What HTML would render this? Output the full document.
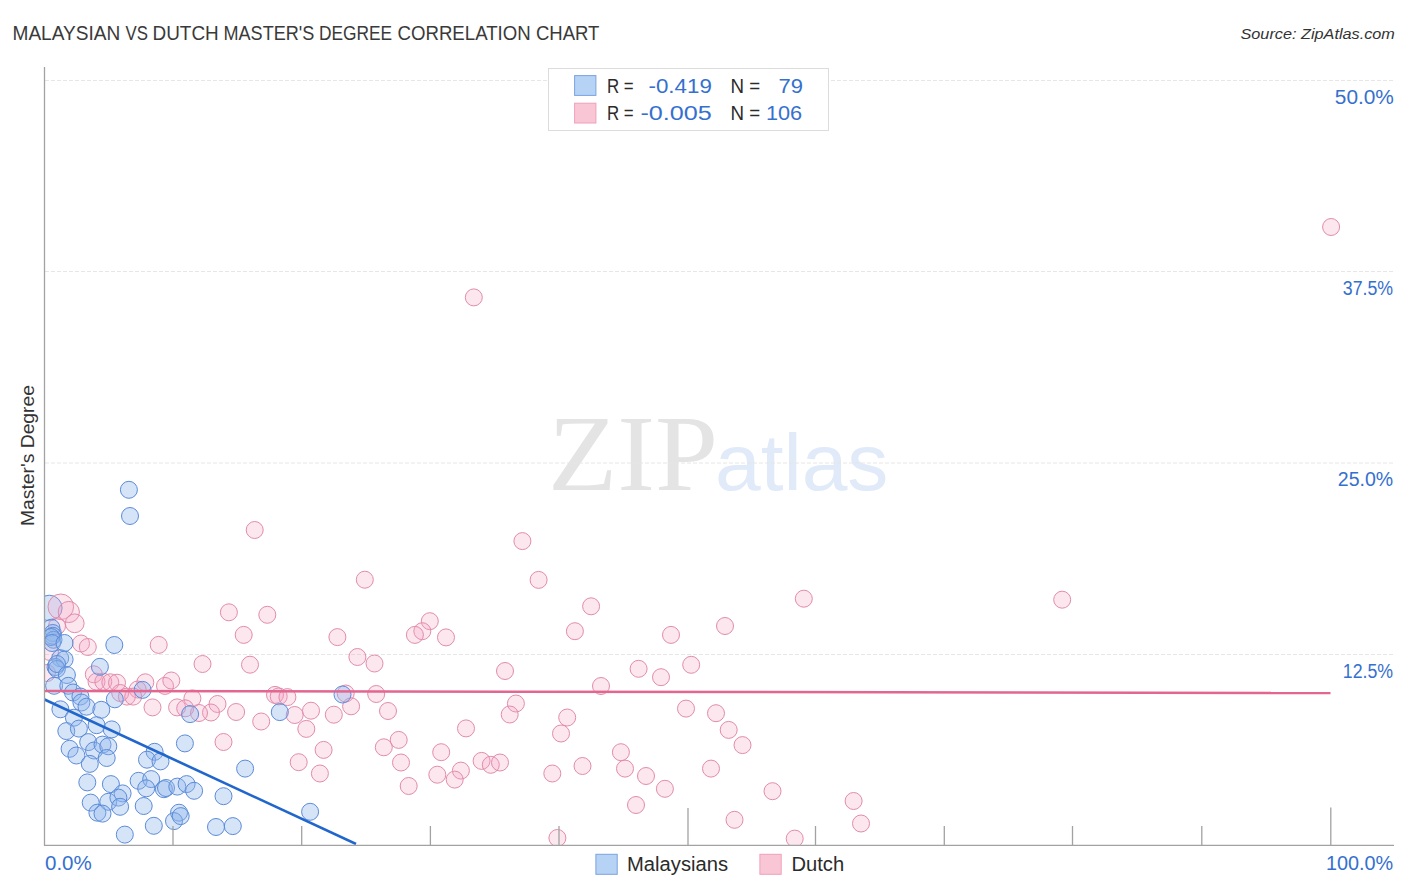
<!DOCTYPE html>
<html><head><meta charset="utf-8">
<style>
html,body{margin:0;padding:0;background:#fff;}
body{width:1406px;height:892px;overflow:hidden;position:relative;}
svg{position:absolute;left:0;top:0;}
text{font-family:"Liberation Sans",sans-serif;}
.p{fill:rgba(245,160,190,0.25);stroke:#e28cab;stroke-width:1;}
.b{fill:rgba(140,180,235,0.36);stroke:#5b8bd9;stroke-width:1;}
</style></head><body>
<svg width="1406" height="892" viewBox="0 0 1406 892">
<defs><clipPath id="plot"><rect x="44.5" y="60" width="1360" height="785"/></clipPath></defs>
<text id="zip" x="548.0" y="490" font-size="108" fill="#e4e4e4" textLength="170.0" lengthAdjust="spacingAndGlyphs" style="font-family:'Liberation Serif',serif">ZIP</text>
<text id="atlas" x="715.0" y="490" font-size="80" fill="#e0eaf8" textLength="173.38" lengthAdjust="spacingAndGlyphs" >atlas</text>
<g stroke="#e6e6e6" stroke-width="1" stroke-dasharray="4,2">
<line x1="45" y1="80.5" x2="1394" y2="80.5"/>
<line x1="45" y1="271.5" x2="1394" y2="271.5"/>
<line x1="45" y1="463" x2="1394" y2="463"/>
<line x1="45" y1="654.5" x2="1394" y2="654.5"/>
</g>

<g clip-path="url(#plot)">
<circle cx="49.3" cy="608.0" r="12.8" class="b"/>
<circle cx="1331.1" cy="227.0" r="8.5" class="p"/>
<circle cx="473.8" cy="297.4" r="8.5" class="p"/>
<circle cx="254.7" cy="530.0" r="8.5" class="p"/>
<circle cx="522.4" cy="541.1" r="8.5" class="p"/>
<circle cx="364.8" cy="579.7" r="8.5" class="p"/>
<circle cx="538.6" cy="579.9" r="8.5" class="p"/>
<circle cx="803.8" cy="598.7" r="8.5" class="p"/>
<circle cx="1062.2" cy="599.7" r="8.5" class="p"/>
<circle cx="591.1" cy="606.3" r="8.5" class="p"/>
<circle cx="574.9" cy="631.2" r="8.5" class="p"/>
<circle cx="429.8" cy="621.2" r="8.5" class="p"/>
<circle cx="422.3" cy="631.2" r="8.5" class="p"/>
<circle cx="414.9" cy="634.9" r="8.5" class="p"/>
<circle cx="446.0" cy="637.4" r="8.5" class="p"/>
<circle cx="671.0" cy="634.9" r="8.5" class="p"/>
<circle cx="725.0" cy="626.0" r="8.5" class="p"/>
<circle cx="505.0" cy="671.0" r="8.5" class="p"/>
<circle cx="638.6" cy="668.8" r="8.5" class="p"/>
<circle cx="661.0" cy="677.2" r="8.5" class="p"/>
<circle cx="691.2" cy="664.8" r="8.5" class="p"/>
<circle cx="601.0" cy="686.0" r="8.5" class="p"/>
<circle cx="515.9" cy="703.5" r="8.5" class="p"/>
<circle cx="509.7" cy="714.5" r="8.5" class="p"/>
<circle cx="567.2" cy="717.5" r="8.5" class="p"/>
<circle cx="686.0" cy="708.6" r="8.5" class="p"/>
<circle cx="716.0" cy="713.2" r="8.5" class="p"/>
<circle cx="388.0" cy="711.0" r="8.5" class="p"/>
<circle cx="376.2" cy="694.0" r="8.5" class="p"/>
<circle cx="374.5" cy="663.5" r="8.5" class="p"/>
<circle cx="357.4" cy="657.0" r="8.5" class="p"/>
<circle cx="337.4" cy="637.1" r="8.5" class="p"/>
<circle cx="228.9" cy="612.3" r="8.5" class="p"/>
<circle cx="267.3" cy="614.8" r="8.5" class="p"/>
<circle cx="243.7" cy="634.9" r="8.5" class="p"/>
<circle cx="250.0" cy="664.7" r="8.5" class="p"/>
<circle cx="202.5" cy="664.0" r="8.5" class="p"/>
<circle cx="728.7" cy="729.9" r="8.5" class="p"/>
<circle cx="742.5" cy="745.1" r="8.5" class="p"/>
<circle cx="772.5" cy="791.2" r="8.5" class="p"/>
<circle cx="853.6" cy="801.0" r="8.5" class="p"/>
<circle cx="734.5" cy="819.8" r="8.5" class="p"/>
<circle cx="861.0" cy="823.5" r="8.5" class="p"/>
<circle cx="794.7" cy="838.6" r="8.5" class="p"/>
<circle cx="466.0" cy="728.4" r="8.5" class="p"/>
<circle cx="398.7" cy="739.9" r="8.5" class="p"/>
<circle cx="383.8" cy="747.3" r="8.5" class="p"/>
<circle cx="441.2" cy="752.2" r="8.5" class="p"/>
<circle cx="401.0" cy="762.5" r="8.5" class="p"/>
<circle cx="481.6" cy="760.9" r="8.5" class="p"/>
<circle cx="490.8" cy="764.8" r="8.5" class="p"/>
<circle cx="500.0" cy="762.5" r="8.5" class="p"/>
<circle cx="460.9" cy="770.6" r="8.5" class="p"/>
<circle cx="437.3" cy="774.7" r="8.5" class="p"/>
<circle cx="454.7" cy="779.6" r="8.5" class="p"/>
<circle cx="408.7" cy="786.0" r="8.5" class="p"/>
<circle cx="552.3" cy="773.5" r="8.5" class="p"/>
<circle cx="582.5" cy="766.0" r="8.5" class="p"/>
<circle cx="620.9" cy="752.2" r="8.5" class="p"/>
<circle cx="625.0" cy="768.6" r="8.5" class="p"/>
<circle cx="646.0" cy="776.0" r="8.5" class="p"/>
<circle cx="664.9" cy="788.8" r="8.5" class="p"/>
<circle cx="636.0" cy="805.0" r="8.5" class="p"/>
<circle cx="711.0" cy="768.6" r="8.5" class="p"/>
<circle cx="561.0" cy="733.5" r="8.5" class="p"/>
<circle cx="557.4" cy="838.0" r="8.5" class="p"/>
<circle cx="275.0" cy="694.9" r="8.5" class="p"/>
<circle cx="278.7" cy="696.4" r="8.5" class="p"/>
<circle cx="287.4" cy="697.1" r="8.5" class="p"/>
<circle cx="345.7" cy="693.5" r="8.5" class="p"/>
<circle cx="351.1" cy="706.3" r="8.5" class="p"/>
<circle cx="217.5" cy="704.0" r="8.5" class="p"/>
<circle cx="211.0" cy="712.5" r="8.5" class="p"/>
<circle cx="236.1" cy="712.0" r="8.5" class="p"/>
<circle cx="294.7" cy="715.0" r="8.5" class="p"/>
<circle cx="311.0" cy="710.7" r="8.5" class="p"/>
<circle cx="333.8" cy="714.7" r="8.5" class="p"/>
<circle cx="261.2" cy="721.5" r="8.5" class="p"/>
<circle cx="306.3" cy="728.9" r="8.5" class="p"/>
<circle cx="223.5" cy="742.0" r="8.5" class="p"/>
<circle cx="323.6" cy="749.9" r="8.5" class="p"/>
<circle cx="298.7" cy="762.2" r="8.5" class="p"/>
<circle cx="319.9" cy="773.5" r="8.5" class="p"/>
<circle cx="50.0" cy="652.0" r="8.5" class="p"/>
<circle cx="57.0" cy="626.0" r="8.5" class="p"/>
<circle cx="47.0" cy="673.0" r="8.5" class="p"/>
<circle cx="60.8" cy="606.8" r="12.8" class="p"/>
<circle cx="68.8" cy="612.0" r="10.6" class="p"/>
<circle cx="74.7" cy="623.3" r="9.4" class="p"/>
<circle cx="81.0" cy="643.5" r="8.5" class="p"/>
<circle cx="87.8" cy="647.0" r="8.5" class="p"/>
<circle cx="158.7" cy="644.9" r="8.5" class="p"/>
<circle cx="93.8" cy="674.3" r="8.5" class="p"/>
<circle cx="96.5" cy="681.7" r="8.5" class="p"/>
<circle cx="103.3" cy="681.7" r="8.5" class="p"/>
<circle cx="110.3" cy="682.3" r="8.5" class="p"/>
<circle cx="117.0" cy="682.7" r="8.5" class="p"/>
<circle cx="145.3" cy="682.3" r="8.5" class="p"/>
<circle cx="137.7" cy="689.5" r="8.5" class="p"/>
<circle cx="120.2" cy="693.0" r="8.5" class="p"/>
<circle cx="126.9" cy="696.6" r="8.5" class="p"/>
<circle cx="133.2" cy="696.6" r="8.5" class="p"/>
<circle cx="165.0" cy="685.9" r="8.5" class="p"/>
<circle cx="171.3" cy="680.5" r="8.5" class="p"/>
<circle cx="152.5" cy="707.4" r="8.5" class="p"/>
<circle cx="192.4" cy="698.4" r="8.5" class="p"/>
<circle cx="177.1" cy="707.4" r="8.5" class="p"/>
<circle cx="185.2" cy="708.3" r="8.5" class="p"/>
<circle cx="199.0" cy="713.0" r="8.5" class="p"/>
<circle cx="128.9" cy="489.8" r="8.5" class="b"/>
<circle cx="130.0" cy="516.0" r="8.5" class="b"/>
<circle cx="342.5" cy="694.5" r="8.5" class="b"/>
<circle cx="279.8" cy="712.1" r="8.5" class="b"/>
<circle cx="245.1" cy="768.6" r="8.5" class="b"/>
<circle cx="223.5" cy="796.2" r="8.5" class="b"/>
<circle cx="310.1" cy="811.8" r="8.5" class="b"/>
<circle cx="216.0" cy="827.0" r="8.5" class="b"/>
<circle cx="232.8" cy="826.1" r="8.5" class="b"/>
<circle cx="51.4" cy="627.7" r="8.5" class="b"/>
<circle cx="52.8" cy="633.0" r="8.5" class="b"/>
<circle cx="52.8" cy="635.8" r="8.5" class="b"/>
<circle cx="53.5" cy="639.8" r="8.5" class="b"/>
<circle cx="51.0" cy="637.0" r="8.5" class="b"/>
<circle cx="52.0" cy="643.0" r="8.5" class="b"/>
<circle cx="64.5" cy="643.0" r="8.5" class="b"/>
<circle cx="114.3" cy="645.0" r="8.5" class="b"/>
<circle cx="60.2" cy="658.2" r="8.5" class="b"/>
<circle cx="64.6" cy="659.5" r="8.5" class="b"/>
<circle cx="55.5" cy="667.0" r="8.5" class="b"/>
<circle cx="56.8" cy="669.0" r="8.5" class="b"/>
<circle cx="57.0" cy="664.0" r="8.5" class="b"/>
<circle cx="66.9" cy="675.0" r="8.5" class="b"/>
<circle cx="54.1" cy="685.8" r="8.5" class="b"/>
<circle cx="68.3" cy="685.8" r="8.5" class="b"/>
<circle cx="73.0" cy="692.5" r="8.5" class="b"/>
<circle cx="80.4" cy="696.5" r="8.5" class="b"/>
<circle cx="99.9" cy="666.8" r="8.5" class="b"/>
<circle cx="142.6" cy="689.9" r="8.5" class="b"/>
<circle cx="114.8" cy="699.3" r="8.5" class="b"/>
<circle cx="190.1" cy="714.1" r="8.5" class="b"/>
<circle cx="60.4" cy="709.3" r="8.5" class="b"/>
<circle cx="81.4" cy="702.5" r="8.5" class="b"/>
<circle cx="86.5" cy="706.7" r="8.5" class="b"/>
<circle cx="101.3" cy="709.8" r="8.5" class="b"/>
<circle cx="73.9" cy="717.7" r="8.5" class="b"/>
<circle cx="66.3" cy="731.1" r="8.5" class="b"/>
<circle cx="78.9" cy="728.6" r="8.5" class="b"/>
<circle cx="96.6" cy="725.2" r="8.5" class="b"/>
<circle cx="111.7" cy="729.4" r="8.5" class="b"/>
<circle cx="88.2" cy="742.1" r="8.5" class="b"/>
<circle cx="69.6" cy="748.8" r="8.5" class="b"/>
<circle cx="76.4" cy="755.5" r="8.5" class="b"/>
<circle cx="94.0" cy="750.5" r="8.5" class="b"/>
<circle cx="102.5" cy="744.6" r="8.5" class="b"/>
<circle cx="108.3" cy="746.3" r="8.5" class="b"/>
<circle cx="106.7" cy="758.0" r="8.5" class="b"/>
<circle cx="89.8" cy="763.9" r="8.5" class="b"/>
<circle cx="184.9" cy="743.4" r="8.5" class="b"/>
<circle cx="154.6" cy="751.8" r="8.5" class="b"/>
<circle cx="147.0" cy="759.7" r="8.5" class="b"/>
<circle cx="160.5" cy="761.4" r="8.5" class="b"/>
<circle cx="87.3" cy="782.4" r="8.5" class="b"/>
<circle cx="110.9" cy="784.1" r="8.5" class="b"/>
<circle cx="138.6" cy="780.8" r="8.5" class="b"/>
<circle cx="151.2" cy="779.1" r="8.5" class="b"/>
<circle cx="146.2" cy="788.3" r="8.5" class="b"/>
<circle cx="163.9" cy="789.2" r="8.5" class="b"/>
<circle cx="166.0" cy="788.0" r="8.5" class="b"/>
<circle cx="177.3" cy="786.6" r="8.5" class="b"/>
<circle cx="186.6" cy="784.1" r="8.5" class="b"/>
<circle cx="194.1" cy="790.8" r="8.5" class="b"/>
<circle cx="122.6" cy="793.4" r="8.5" class="b"/>
<circle cx="90.7" cy="802.6" r="8.5" class="b"/>
<circle cx="108.3" cy="801.8" r="8.5" class="b"/>
<circle cx="118.4" cy="797.6" r="8.5" class="b"/>
<circle cx="120.1" cy="806.8" r="8.5" class="b"/>
<circle cx="97.4" cy="812.7" r="8.5" class="b"/>
<circle cx="102.5" cy="813.6" r="8.5" class="b"/>
<circle cx="143.7" cy="806.0" r="8.5" class="b"/>
<circle cx="179.0" cy="812.7" r="8.5" class="b"/>
<circle cx="174.0" cy="821.1" r="8.5" class="b"/>
<circle cx="180.7" cy="816.1" r="8.5" class="b"/>
<circle cx="153.8" cy="825.8" r="8.5" class="b"/>
<circle cx="124.8" cy="834.6" r="8.5" class="b"/>
<line x1="44.5" y1="691" x2="1330.5" y2="693" stroke="#e2668f" stroke-width="2.5"/>
<line x1="44.5" y1="699.5" x2="356" y2="844" stroke="#2166cc" stroke-width="2.6"/>
</g>
<g stroke="#a2a2a2" stroke-width="1.3">
<line x1="44.5" y1="67" x2="44.5" y2="845.5"/>
<line x1="44" y1="845.3" x2="1394" y2="845.3"/>
<line x1="173" y1="826" x2="173" y2="845"/>
<line x1="301.7" y1="826" x2="301.7" y2="845"/>
<line x1="430.4" y1="826" x2="430.4" y2="845"/>
<line x1="559" y1="826" x2="559" y2="845"/>
<line x1="688" y1="808" x2="688" y2="845"/>
<line x1="815.5" y1="826" x2="815.5" y2="845"/>
<line x1="944.3" y1="826" x2="944.3" y2="845"/>
<line x1="1072.5" y1="826" x2="1072.5" y2="845"/>
<line x1="1201.8" y1="826" x2="1201.8" y2="845"/>
<line x1="1330.8" y1="807.5" x2="1330.8" y2="845"/>
</g>
<text transform="translate(34.1,526) rotate(-90)" font-size="18" fill="#333" textLength="141" lengthAdjust="spacingAndGlyphs">Master's Degree</text>
<rect x="548.5" y="68.5" width="280" height="62" fill="#fff" stroke="#dcdcdc" stroke-width="1"/>
<rect x="574.6" y="75.6" width="21.3" height="19.8" fill="#b6d2f5" stroke="#7ba3de" stroke-width="1"/>
<rect x="574.6" y="103.2" width="21.3" height="19.8" fill="#f9c6d6" stroke="#efa0ba" stroke-width="1"/>
<rect x="595.9" y="854.3" width="21.3" height="20" fill="#b6d2f5" stroke="#7ba3de" stroke-width="1"/>
<rect x="759.9" y="854.3" width="21.3" height="20" fill="#f9c6d6" stroke="#efa0ba" stroke-width="1"/>
<text id="t0" x="12.5" y="39.8" font-size="19.5" fill="#3a3a3a" textLength="107.79" lengthAdjust="spacingAndGlyphs" >MALAYSIAN</text>
<text id="t1" x="125.5" y="39.8" font-size="19.5" fill="#3a3a3a" textLength="22.42" lengthAdjust="spacingAndGlyphs" >VS</text>
<text id="t2" x="152.5" y="39.8" font-size="19.5" fill="#3a3a3a" textLength="66.25" lengthAdjust="spacingAndGlyphs" >DUTCH</text>
<text id="t3" x="223.5" y="39.8" font-size="19.5" fill="#3a3a3a" textLength="90.8" lengthAdjust="spacingAndGlyphs" >MASTER'S</text>
<text id="t4" x="319.0" y="39.8" font-size="19.5" fill="#3a3a3a" textLength="73.16" lengthAdjust="spacingAndGlyphs" >DEGREE</text>
<text id="t5" x="397.5" y="39.8" font-size="19.5" fill="#3a3a3a" textLength="133.21" lengthAdjust="spacingAndGlyphs" >CORRELATION</text>
<text id="t6" x="536.0" y="39.8" font-size="19.5" fill="#3a3a3a" textLength="63.41" lengthAdjust="spacingAndGlyphs" >CHART</text>
<text id="source" x="1240.5" y="38.8" font-size="15" fill="#333" textLength="154.36" lengthAdjust="spacingAndGlyphs" font-style="italic">Source: ZipAtlas.com</text>
<text id="y50" x="1334.8" y="103.6" font-size="20" fill="#3570cf" textLength="59.12" lengthAdjust="spacingAndGlyphs" >50.0%</text>
<text id="y375" x="1342.8" y="294.8" font-size="20" fill="#3570cf" textLength="50.32" lengthAdjust="spacingAndGlyphs" >37.5%</text>
<text id="y25" x="1337.8" y="486" font-size="20" fill="#3570cf" textLength="55.32" lengthAdjust="spacingAndGlyphs" >25.0%</text>
<text id="y125" x="1342.8" y="678.1" font-size="20" fill="#3570cf" textLength="50.32" lengthAdjust="spacingAndGlyphs" >12.5%</text>
<text id="x0" x="45.0" y="869.8" font-size="20" fill="#3570cf" textLength="46.79" lengthAdjust="spacingAndGlyphs" >0.0%</text>
<text id="x100" x="1326.0" y="869.8" font-size="20" fill="#3570cf" textLength="67.24" lengthAdjust="spacingAndGlyphs" >100.0%</text>
<text id="R1" x="606.9" y="93" font-size="20" fill="#2b2b2b" textLength="26.69" lengthAdjust="spacingAndGlyphs" >R =</text>
<text id="v1" x="648.5" y="93" font-size="20" fill="#3570cf" textLength="63.32" lengthAdjust="spacingAndGlyphs" >-0.419</text>
<text id="N1" x="730.5" y="93" font-size="20" fill="#2b2b2b" textLength="29.69" lengthAdjust="spacingAndGlyphs" >N =</text>
<text id="n1" x="778.5" y="93" font-size="20" fill="#3570cf" textLength="24.45" lengthAdjust="spacingAndGlyphs" >79</text>
<text id="R2" x="606.9" y="120" font-size="20" fill="#2b2b2b" textLength="26.69" lengthAdjust="spacingAndGlyphs" >R =</text>
<text id="v2" x="640.5" y="120" font-size="20" fill="#3570cf" textLength="71.32" lengthAdjust="spacingAndGlyphs" >-0.005</text>
<text id="N2" x="730.5" y="120" font-size="20" fill="#2b2b2b" textLength="29.69" lengthAdjust="spacingAndGlyphs" >N =</text>
<text id="n2" x="766.0" y="120" font-size="20" fill="#3570cf" textLength="36.18" lengthAdjust="spacingAndGlyphs" >106</text>
<text id="mal" x="627.0" y="871" font-size="20" fill="#2b2b2b" textLength="101.05" lengthAdjust="spacingAndGlyphs" >Malaysians</text>
<text id="dut" x="791.5" y="871" font-size="20" fill="#2b2b2b" textLength="52.65" lengthAdjust="spacingAndGlyphs" >Dutch</text>
</svg>
</body></html>
